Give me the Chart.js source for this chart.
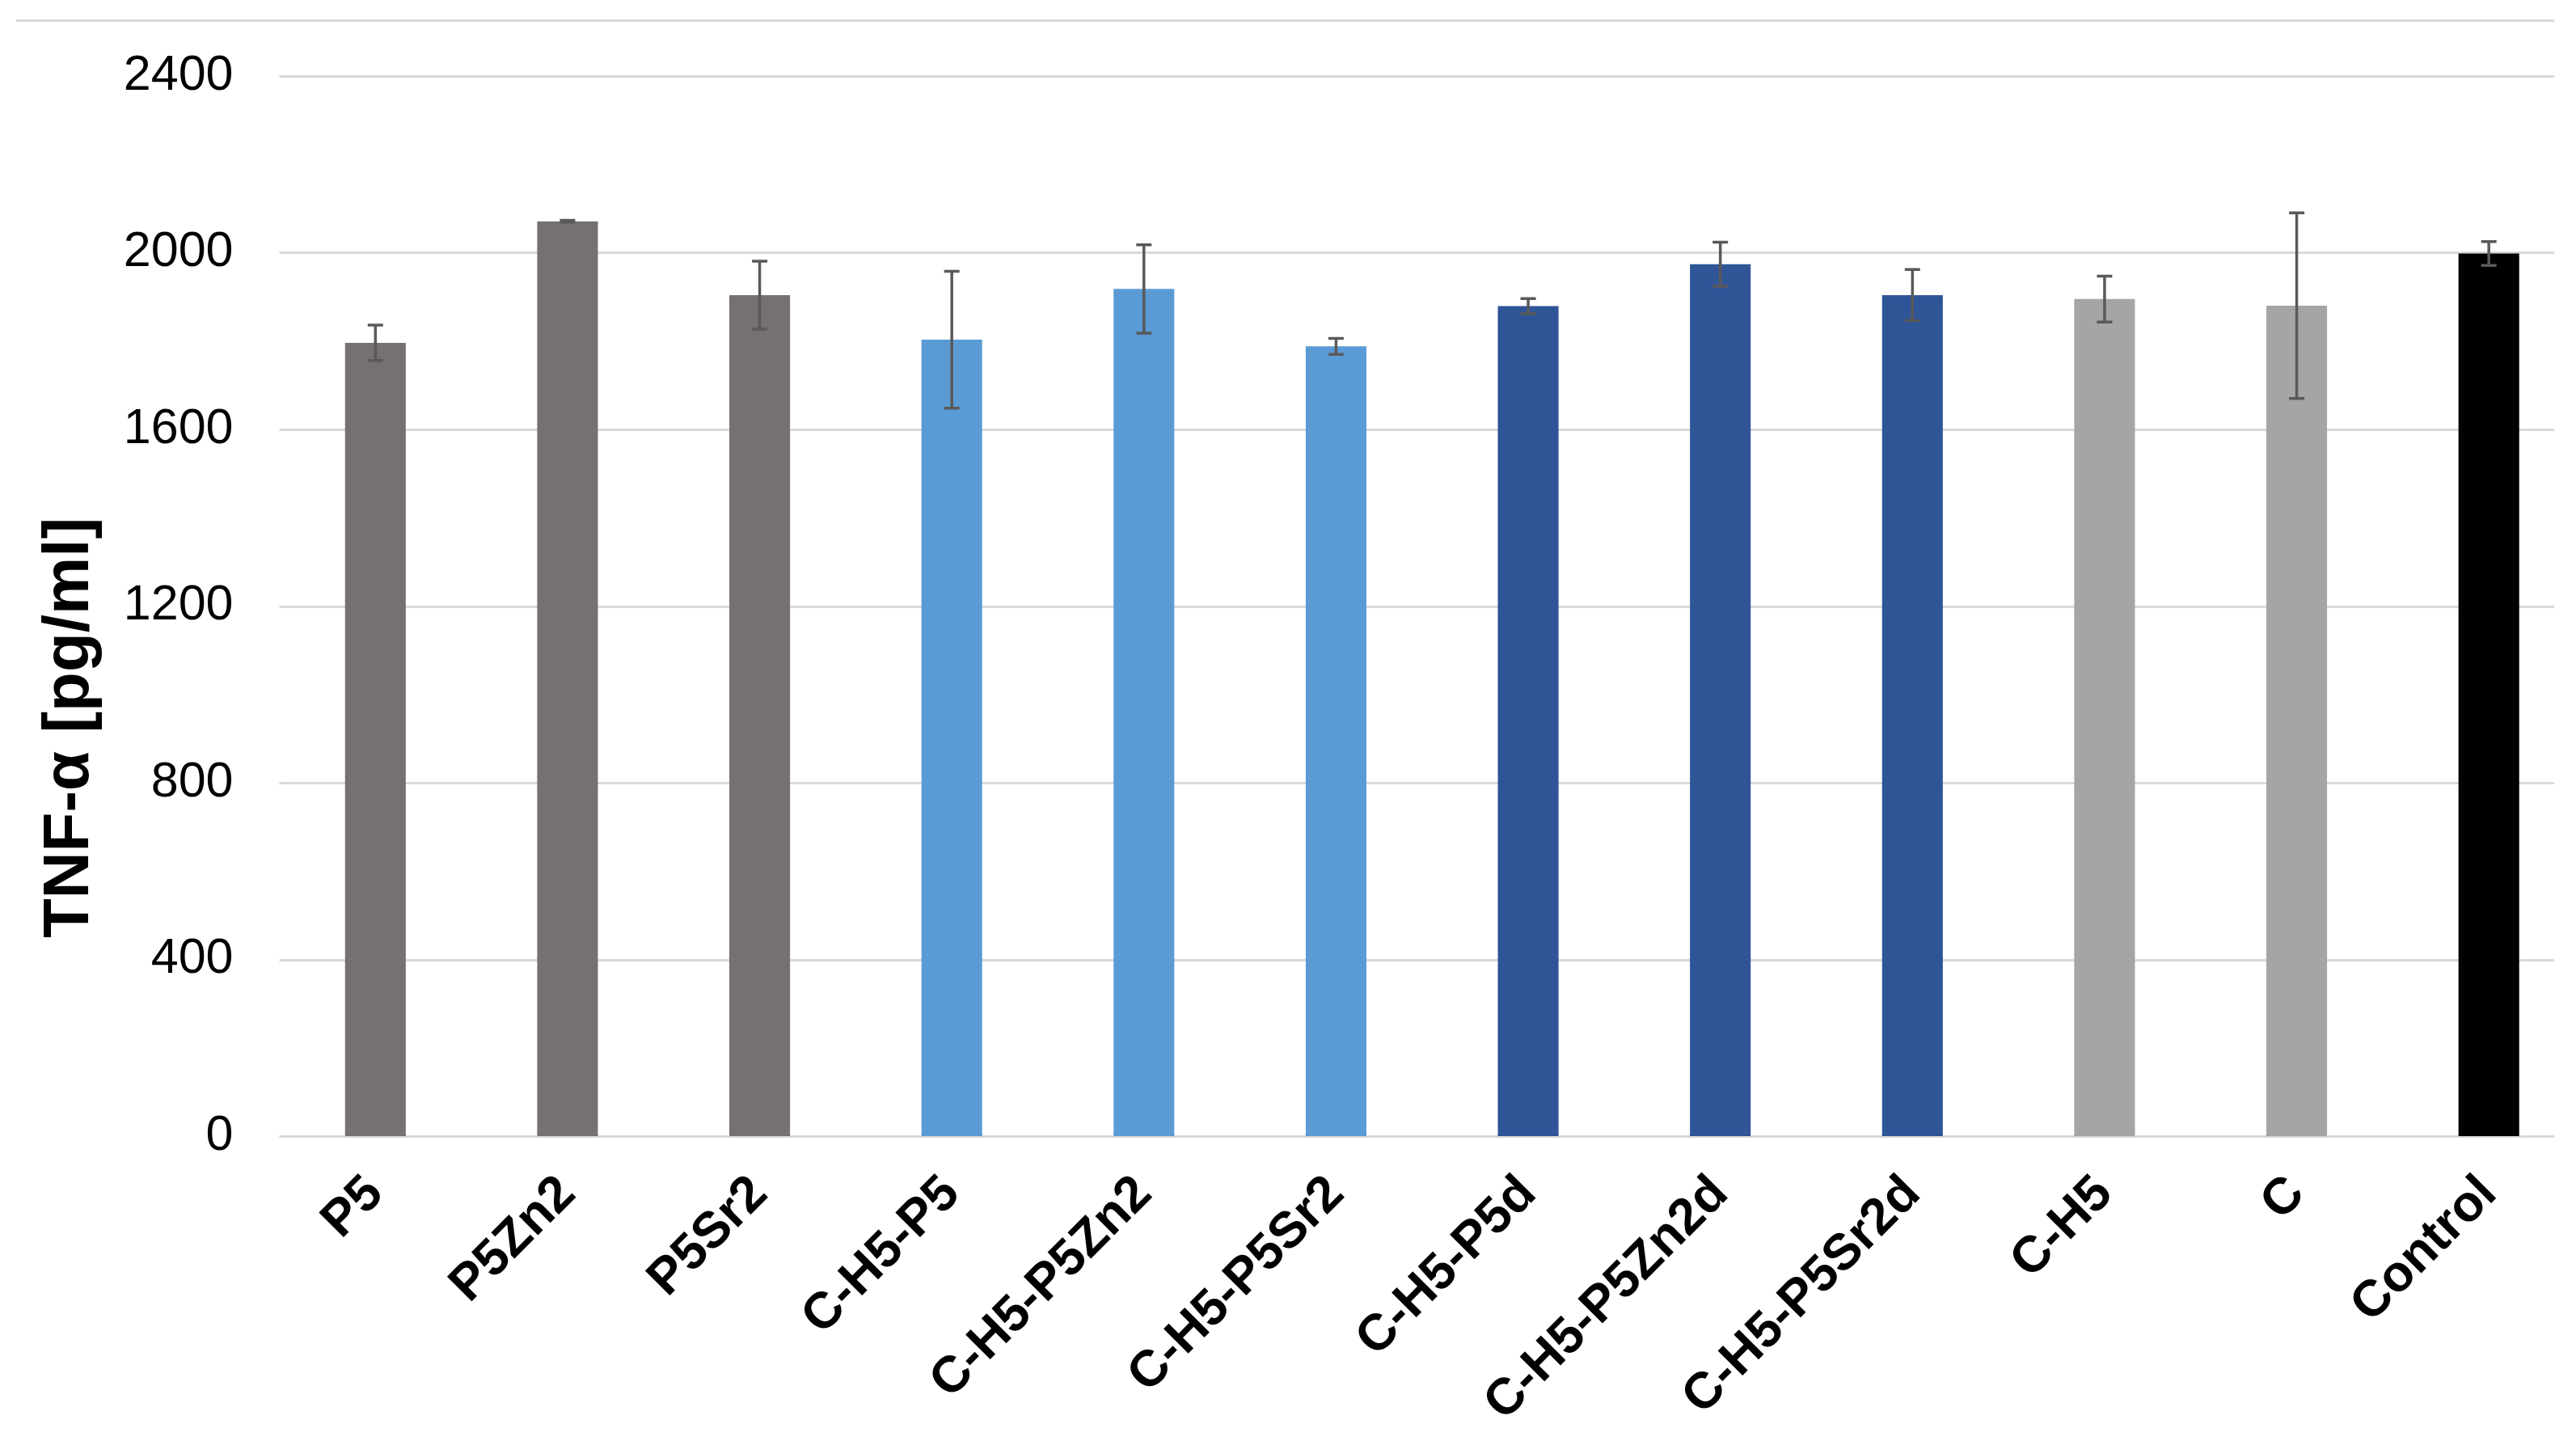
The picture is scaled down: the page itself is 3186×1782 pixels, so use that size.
<!DOCTYPE html>
<html>
<head>
<meta charset="utf-8">
<script src="https://cdn.jsdelivr.net/npm/chart.js@4/dist/chart.umd.min.js"></script>
<style>
  html, body { margin: 0; padding: 0; background: #fff; }
  canvas { display: block; }
</style>
</head>
<body>
<canvas id="tnfChart" width="3186" height="1782"></canvas>
<script>
// data
const categories = ['P5', 'P5Zn2', 'P5Sr2', 'C-H5-P5', 'C-H5-P5Zn2', 'C-H5-P5Sr2',
    'C-H5-P5d', 'C-H5-P5Zn2d', 'C-H5-P5Sr2d', 'C-H5', 'C', 'Control'];
const tnfValues = [1796, 2071, 1904, 1803, 1918, 1788, 1879, 1974, 1904, 1895, 1880, 1998];
const tnfErrors = [40, 2, 77, 155, 100, 18, 17, 50, 58, 52, 210, 27];
const barColors = ['#767171', '#767171', '#767171', '#5B9BD5', '#5B9BD5', '#5B9BD5',
    '#2F5597', '#2F5597', '#2F5597', '#A5A5A5', '#A5A5A5', '#000000'];
const yTicks = [0, 400, 800, 1200, 1600, 2000, 2400];
const yTitle = 'TNF-α [pg/ml]';

const FONT = "'Liberation Sans', Arial, sans-serif";
const GRID_COLOR = '#D9D9D9';
const GRID_END = 3159; // gridlines stop short of the category axis end
const X_OVERHANG = 11; // category axis runs a bit past the canvas edge in the original

// stretch the category axis past the right edge (the original is cropped there)
const stretchPlugin = {
    id: 'stretchPlugin',
    afterLayout(chart) {
        const x = chart.scales.x;
        x.right = chart.chartArea.right + X_OVERHANG;
        x.width = x.right - x.left;
        x.configure();
    }
};

// gridlines + top frame line (drawn by hand so they end where the original does)
const gridPlugin = {
    id: 'gridPlugin',
    beforeDatasetsDraw(chart) {
        const ctx = chart.ctx;
        const y = chart.scales.y;
        const left = chart.chartArea.left;
        ctx.save();
        ctx.strokeStyle = GRID_COLOR;
        ctx.lineWidth = 3;
        yTicks.forEach(t => {
            const py = Math.round(y.getPixelForValue(t)) + 0.5;
            ctx.beginPath();
            ctx.moveTo(left, py);
            ctx.lineTo(GRID_END, py);
            ctx.stroke();
        });
        // frame line at the very top
        ctx.beginPath();
        ctx.moveTo(20, 25.5);
        ctx.lineTo(GRID_END, 25.5);
        ctx.stroke();
        ctx.restore();
    }
};

// error bars
const errorBarPlugin = {
    id: 'errorBarPlugin',
    afterDatasetsDraw(chart) {
        const ctx = chart.ctx;
        const meta = chart.getDatasetMeta(0);
        const y = chart.scales.y;
        ctx.save();
        ctx.strokeStyle = '#595959';
        ctx.lineWidth = 3.5;
        meta.data.forEach((bar, i) => {
            const v = tnfValues[i];
            const e = tnfErrors[i];
            const top = y.getPixelForValue(v + e);
            const bottom = y.getPixelForValue(v - e);
            const cap = 9.5;
            ctx.beginPath();
            ctx.moveTo(bar.x, top);
            ctx.lineTo(bar.x, bottom);
            ctx.moveTo(bar.x - cap, top);
            ctx.lineTo(bar.x + cap, top);
            ctx.moveTo(bar.x - cap, bottom);
            ctx.lineTo(bar.x + cap, bottom);
            ctx.stroke();
        });
        ctx.restore();
    }
};

// y axis title, centred on the whole figure height like the original
const yTitlePlugin = {
    id: 'yTitlePlugin',
    afterDraw(chart) {
        const ctx = chart.ctx;
        ctx.save();
        ctx.translate(87, 900);
        ctx.rotate(-Math.PI / 2);
        ctx.fillStyle = '#000';
        ctx.font = 'bold 80px ' + FONT;
        ctx.textAlign = 'center';
        ctx.textBaseline = 'middle';
        ctx.fillText(yTitle, 0, 0);
        ctx.restore();
    }
};

const ctx = document.getElementById('tnfChart').getContext('2d');
const tnfChart = new Chart(ctx, {
    type: 'bar',
    data: {
        labels: categories,
        datasets: [{
            label: 'TNF-α',
            data: tnfValues,
            backgroundColor: barColors,
            borderWidth: 0,
            barPercentage: 0.316,
            categoryPercentage: 1
        }]
    },
    options: {
        responsive: false,
        animation: false,
        devicePixelRatio: 1,
        layout: {
            padding: { left: 0, right: 0, top: 94, bottom: 0 }
        },
        plugins: {
            legend: { display: false },
            tooltip: { enabled: false },
            title: { display: false }
        },
        scales: {
            x: {
                offset: true,
                grid: { display: false, drawTicks: false },
                border: { display: false },
                ticks: {
                    autoSkip: false,
                    maxRotation: 45,
                    minRotation: 45,
                    padding: 58,
                    color: '#000',
                    font: { family: FONT, size: 63, weight: 'bold', lineHeight: 0.15 }
                },
                afterFit(scale) { scale.height = 1782 - 1405; }
            },
            y: {
                min: 0,
                max: 2400,
                grid: { display: false, drawTicks: false },
                border: { display: false },
                afterBuildTicks(axis) {
                    axis.ticks = yTicks.map(v => ({ value: v }));
                },
                ticks: {
                    padding: 57,
                    color: '#000',
                    font: { family: FONT, size: 61 },
                    callback: (v) => String(v)
                },
                afterFit(scale) { scale.width = 345.5; }
            }
        }
    },
    plugins: [stretchPlugin, gridPlugin, errorBarPlugin, yTitlePlugin]
});
</script>
</body>
</html>
